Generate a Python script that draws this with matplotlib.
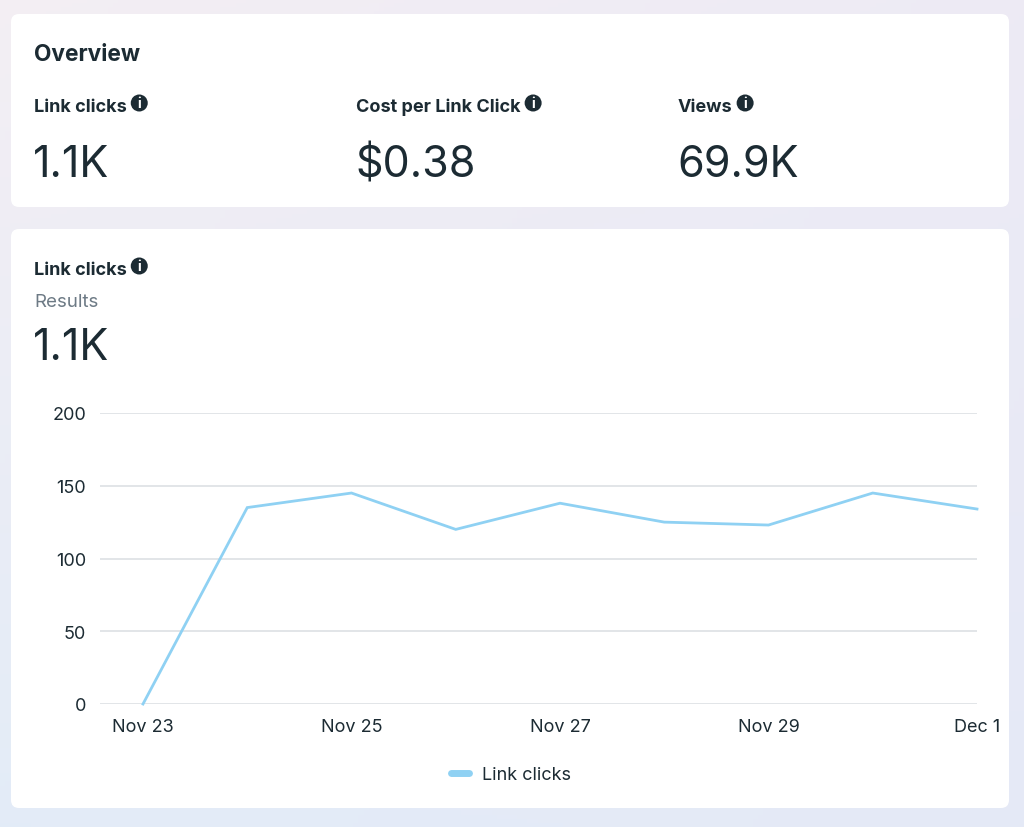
import numpy as np
import matplotlib
matplotlib.use("Agg")
import matplotlib.pyplot as plt
from matplotlib.patches import FancyBboxPatch, Circle

plt.rcParams['font.family'] = ['Inter', 'DejaVu Sans']

# data
dates = ['Nov 23', 'Nov 24', 'Nov 25', 'Nov 26', 'Nov 27', 'Nov 28', 'Nov 29', 'Nov 30', 'Dec 1']
link_clicks = [0, 135, 145, 120, 138, 125, 123, 145, 134]
y_ticks = [0, 50, 100, 150, 200]

# overview cards
kpi_names = ['Link clicks', 'Cost per Link Click', 'Views']
kpi_values = ['1.1K', '$0.38', '69.9K']

DARK = '#1c2b33'
GREY = '#6d7a85'
LINE = '#8fd1f3'
GRID = '#dde0e4'

W, H = 1024, 828
fig = plt.figure(figsize=(W / 100, H / 100), dpi=100)

# background in pixel coordinates
bg = fig.add_axes([0, 0, 1, 1])
bg.set_xlim(0, W)
bg.set_ylim(H, 0)
bg.axis('off')
yy, xx = np.mgrid[0:1:200j, 0:1:200j]
c_top = np.array([0.955, 0.935, 0.955])
c_bot = np.array([0.89, 0.925, 0.97])
c_right = np.array([0.905, 0.905, 0.965])
grad = c_top * (1 - yy[..., None]) + c_bot * yy[..., None]
grad = grad * (1 - 0.5 * xx[..., None]) + c_right * 0.5 * xx[..., None]
bg.imshow(grad, extent=[0, W, H, 0], aspect='auto', zorder=0)


def card(x0, y0, x1, y1):
    bg.add_patch(FancyBboxPatch((x0, y0), x1 - x0, y1 - y0,
                                boxstyle='round,pad=0,rounding_size=8',
                                fc='white', ec='none', zorder=1))


def info_icon(x, y):
    bg.add_patch(Circle((x, y), 8.5, fc=DARK, ec='none', zorder=3))
    bg.text(x, y + 0.5, 'i', color='white', fontsize=10, fontweight='bold',
            ha='center', va='center', zorder=4)


def label_with_icon(x, y, s):
    t = bg.text(x, y, s, fontsize=13, fontweight='bold', color=DARK,
                va='baseline', ha='left', zorder=3)
    fig.canvas.draw()
    bb = t.get_window_extent()
    info_icon(bb.x1 + 12.5, y - 8)


card(11, 15, 1009, 208)
card(11, 230, 1009, 809)

bg.text(34, 61, 'Overview', fontsize=16.3, fontweight='bold', color=DARK,
        va='baseline', zorder=3)
kpi_x = [34, 356, 678]
for x, name, val in zip(kpi_x, kpi_names, kpi_values):
    label_with_icon(x, 112, name)
    bg.text(x - 1, 177, val, fontsize=31, fontweight='normal', color=DARK,
            va='baseline', zorder=3)

label_with_icon(34, 275, 'Link clicks')
bg.text(34, 307, 'Results', fontsize=13.5, color=GREY, va='baseline', zorder=3)
bg.text(33, 360, kpi_values[0], fontsize=31, fontweight='normal', color=DARK,
        va='baseline', zorder=3)

# line chart
left, right, top, bottom = 100, 977, 414, 705
ax = fig.add_axes([left / W, 1 - bottom / H, (right - left) / W, (bottom - top) / H])
ax.set_facecolor('none')
x = np.arange(len(dates))
ax.plot(x, link_clicks, color=LINE, lw=2, label='Link clicks', clip_on=False,
        solid_joinstyle='miter', zorder=3)
ax.set_xlim(-43 / 104.25, len(dates) - 1)
ax.set_ylim(0, 200)
ax.set_yticks(y_ticks)
ax.set_xticks(x[::2])
ax.set_xticklabels(dates[::2])
ax.tick_params(length=0, labelsize=13, labelcolor=DARK)
ax.tick_params(axis='y', pad=10)
ax.tick_params(axis='x', pad=10)
ax.grid(axis='y', color=GRID, lw=1.2)
ax.set_axisbelow(True)
for s in ax.spines.values():
    s.set_visible(False)

leg = ax.legend(loc='center', bbox_to_anchor=(511 / W, 1 - 776 / H),
                bbox_transform=fig.transFigure, frameon=False, fontsize=13,
                handlelength=1.0, handletextpad=0.7)
for h in leg.get_lines():
    h.set_linewidth(5)
    h.set_solid_capstyle('round')
for t in leg.get_texts():
    t.set_color(DARK)

fig.savefig('out.png', dpi=100)
